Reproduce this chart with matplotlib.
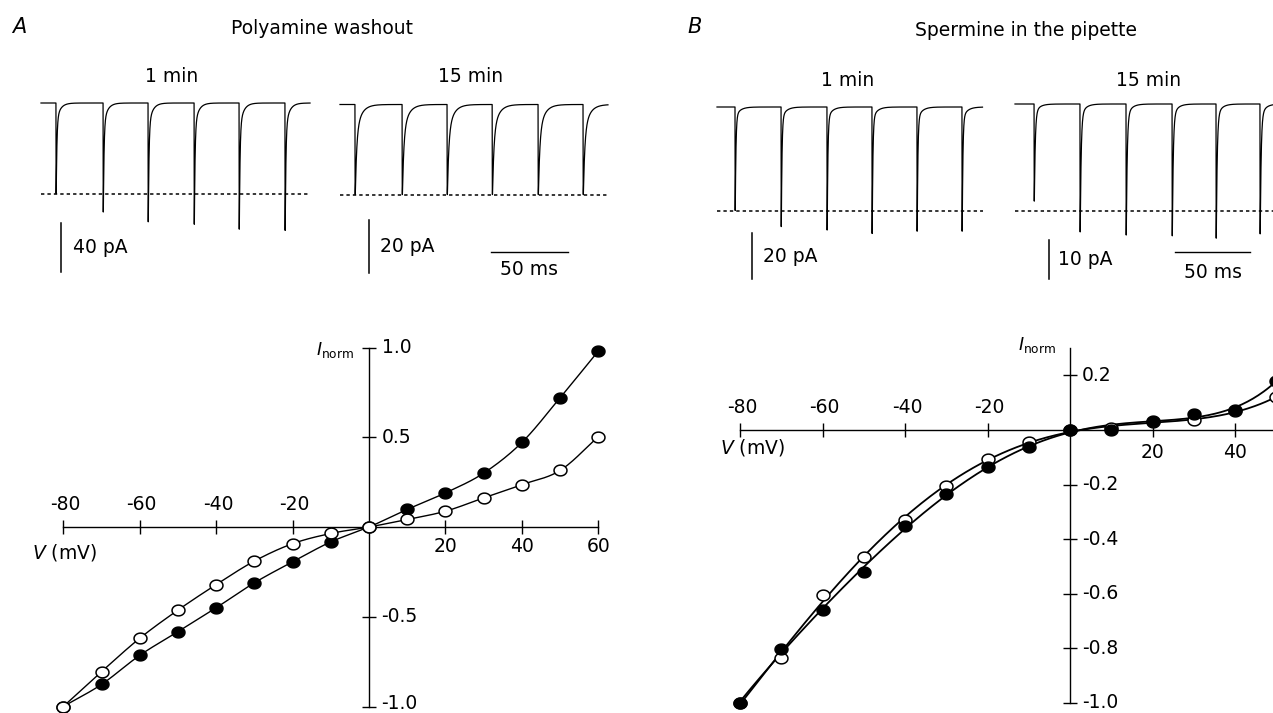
import numpy as np
import matplotlib
matplotlib.use("Agg")
import matplotlib.pyplot as plt
from matplotlib.path import Path

W, H = 1273, 713
plt.rcParams['font.family'] = ['DejaVu Sans']
plt.rcParams['mathtext.fontset'] = 'dejavusans'

# ------------------------------------------------------------------ data
# A: polyamine washout, normalised I-V (filled = 1 min, open = 15 min)
a_voltage = [-80, -70, -60, -50, -40, -30, -20, -10, 0, 10, 20, 30, 40, 50, 60]
a_inorm_1min = [-1.0, -0.877, -0.715, -0.583, -0.450, -0.311, -0.194, -0.083,
                0.0, 0.098, 0.19, 0.30, 0.471, 0.72, 0.98]
a_inorm_15min = [-1.0, -0.806, -0.62, -0.463, -0.321, -0.19, -0.093, -0.036,
                 0.0, 0.042, 0.088, 0.162, 0.236, 0.315, 0.503]
# B: spermine in the pipette
b_voltage = [-80, -70, -60, -50, -40, -30, -20, -10, 0, 10, 20, 30, 40, 50]
b_inorm_1min = [-1.0, -0.803, -0.658, -0.521, -0.351, -0.235, -0.136, -0.061,
                0.0, 0.0, 0.034, 0.060, 0.074, 0.18]
b_inorm_15min = [-1.0, -0.834, -0.603, -0.466, -0.328, -0.205, -0.106, -0.045,
                 0.0, 0.006, 0.028, 0.036, 0.070, 0.12]

a_xticks = [-80, -60, -40, -20, 20, 40, 60]
a_yticks = [1.0, 0.5, -0.5, -1.0]
a_yticklabels = ['1.0', '0.5', '-0.5', '-1.0']
b_xticks = [-80, -60, -40, -20, 20, 40]
b_yticks = [0.2, -0.2, -0.4, -0.6, -0.8, -1.0]
b_yticklabels = ['0.2', '-0.2', '-0.4', '-0.6', '-0.8', '-1.0']

# EPSC trains: stimulus times (ms) and peak amplitudes (pA)
a1_times = [9.7, 40.3, 69.5, 99.4, 128.6, 158.4]
a1_amps = [74, 89, 97, 99, 103, 104]
a15_times = [9.7, 40.3, 69.5, 98.8, 128.6, 157.8]
a15_amps = [34, 34, 34, 34, 34, 34]
b1_times = [12.0, 42.7, 73.3, 103.3, 133.3, 163.3]
b1_amps = [45, 52, 53.5, 55, 54, 54]
b15_times = [12.7, 43.3, 74.0, 104.7, 134.0, 163.3]
b15_amps = [24.9, 32.8, 33.6, 33.8, 34.4, 33.3]
dashed_levels = {'a1': 74, 'a15': 34, 'b1': 45, 'b15': 27.4}
scale_bars_pA = {'a1': 40, 'a15': 20, 'b1': 20, 'b15': 10}
time_bar_ms = 50

fig = plt.figure(figsize=(W / 100, H / 100), dpi=100)
FS = 13.5


def ftext(x, y, s, **kw):
    fig.text(x / W, 1 - y / H, s, fontsize=kw.pop('fontsize', FS), **kw)


def px_axes(x0, y0, x1, y1):
    return fig.add_axes([x0 / W, 1 - y1 / H, (x1 - x0) / W, (y1 - y0) / H])


# ------------------------------------------------------------------ titles
ftext(19, 27, 'A', style='italic', ha='center', va='center', fontsize=15)
ftext(695, 27, 'B', style='italic', ha='center', va='center', fontsize=15)
ftext(322, 28, 'Polyamine washout', ha='center', va='center')
ftext(1026, 30, 'Spermine in the pipette', ha='center', va='center')
ftext(172, 77, '1 min', ha='center', va='center')
ftext(471, 77, '15 min', ha='center', va='center')
ftext(848, 80, '1 min', ha='center', va='center')
ftext(1149, 80, '15 min', ha='center', va='center')


# ------------------------------------------------------------------ traces
def epsc(t, times, amps, tau_f, tau_s, frac_s):
    y = np.zeros_like(t)
    tt = np.linspace(0, 30, 30001)
    shp = ((1 - frac_s) * np.exp(-tt / tau_f) + frac_s * np.exp(-tt / tau_s)) * (1 - np.exp(-tt / 0.06))
    norm = shp.max()
    for t0, a in zip(times, amps):
        dt = t - t0
        m = dt >= 0
        s = ((1 - frac_s) * np.exp(-dt[m] / tau_f) + frac_s * np.exp(-dt[m] / tau_s)) * (1 - np.exp(-dt[m] / 0.06))
        y[m] -= a * s / norm
    return y


def trace_panel(key, box, cal, times, amps, dur, taus, vbar, tbar=None):
    x_start, y_base, sx, sy = cal
    x0, y0, x1, y1 = box
    ax = px_axes(x0, y0, x1, y1)
    ax.set_xlim((x0 - x_start) / sx, (x1 - x_start) / sx)
    ax.set_ylim(-(y1 - y_base) / sy, -(y0 - y_base) / sy)
    ax.axis('off')

    def d(px, py):
        return (px - x_start) / sx, -(py - y_base) / sy

    t = np.arange(0, dur, 0.01)
    ax.plot(t, epsc(t, times, amps, *taus), color='black', lw=0.9, clip_on=False)
    lvl = dashed_levels[key]
    ax.plot([0, dur], [-lvl, -lvl], color='black', lw=1.1, ls=(0, (2.2, 2.0)), clip_on=False)
    # vertical scale bar
    bx, by, lx = vbar
    tb, ib = d(bx, by)
    ax.plot([tb, tb], [ib, ib - scale_bars_pA[key]], color='black', lw=1.1)
    tl, il = d(lx, by + scale_bars_pA[key] * sy / 2)
    ax.text(tl, il, f'{scale_bars_pA[key]} pA', ha='left', va='center', fontsize=FS)
    if tbar is not None:
        hx, hy, ly = tbar
        th, ih = d(hx, hy)
        ax.plot([th, th + time_bar_ms], [ih, ih], color='black', lw=1.0)
        _, il2 = d(hx, ly)
        ax.text(th + time_bar_ms / 2, il2, f'{time_bar_ms} ms', ha='center', va='center', fontsize=FS)
    return ax


trace_panel('a1', (25, 90, 330, 290), (41, 103, 1.54, 1.225), a1_times, a1_amps, 174.7,
            (0.45, 2.5, 0.15), (61, 223, 73))
trace_panel('a15', (330, 90, 640, 290), (340, 104.5, 1.54, 2.65), a15_times, a15_amps, 174.0,
            (0.9, 3.5, 0.3), (369, 220, 380), (491, 252, 269))
trace_panel('b1', (700, 90, 1000, 290), (717, 107, 1.5, 2.3), b1_times, b1_amps, 177.0,
            (0.45, 3.0, 0.07), (752, 233, 763))
trace_panel('b15', (1000, 90, 1273, 290), (1015, 104, 1.5, 3.9), b15_times, b15_amps, 177.0,
            (0.6, 3.0, 0.08), (1049, 240, 1058), (1175, 252, 272))


# ------------------------------------------------------------------ I-V plots
def catmull_rom(x, y, n=24):
    x = np.asarray(x, float)
    y = np.asarray(y, float)
    px = np.concatenate([[2 * x[0] - x[1]], x, [2 * x[-1] - x[-2]]])
    py = np.concatenate([[2 * y[0] - y[1]], y, [2 * y[-1] - y[-2]]])
    s = np.linspace(0, 1, n, endpoint=False)
    ox, oy = [], []
    for i in range(1, len(px) - 2):
        for p, o in ((px, ox), (py, oy)):
            p0, p1, p2, p3 = p[i - 1], p[i], p[i + 1], p[i + 2]
            o.extend(0.5 * (2 * p1 + (-p0 + p2) * s + (2 * p0 - 5 * p1 + 4 * p2 - p3) * s ** 2
                            + (-p0 + 3 * p1 - 3 * p2 + p3) * s ** 3))
    ox.append(x[-1])
    oy.append(y[-1])
    return np.array(ox), np.array(oy)


def poly_fit_curve(x, y, deg=5, n=300):
    x = np.asarray(x, float)
    y = np.asarray(y, float)
    c = np.polyfit(x, y, deg)
    xx = np.linspace(x[0], x[-1], n)
    return xx, np.polyval(c, xx)


def iv_axes(box, X0, sx, Y0, sy, xbounds, ybounds):
    x0, y0, x1, y1 = box
    ax = px_axes(x0, y0, x1, y1)
    ax.set_xlim((x0 - X0) / sx, (x1 - X0) / sx)
    ax.set_ylim(-(y1 - Y0) / sy, -(y0 - Y0) / sy)
    ax.patch.set_alpha(0)
    for sp in ('top', 'right'):
        ax.spines[sp].set_visible(False)
    ax.spines['left'].set_position(('data', 0))
    ax.spines['bottom'].set_position(('data', 0))
    ax.spines['bottom'].set_bounds(*xbounds)
    ax.spines['left'].set_bounds(*ybounds)
    for sp in ('left', 'bottom'):
        ax.spines[sp].set_linewidth(1.0)
    ax.tick_params(direction='inout', length=10, width=1.0,
                   labelbottom=False, labelleft=False)
    return ax


def draw_iv(ax, xticks, yticks, yticklabels, neg_off, pos_off, ylab_off, vlabel_off, inorm_pos,
            bottom_lift=0.0):
    ax.set_xticks(xticks)
    ax.set_yticks(yticks)
    for v in xticks:
        if v < 0:
            ax.annotate(str(v), (v, 0), xytext=(1.5, neg_off), textcoords='offset points',
                        ha='center', va='center', fontsize=FS)
        else:
            ax.annotate(str(v), (v, 0), xytext=(0, pos_off), textcoords='offset points',
                        ha='center', va='center', fontsize=FS)
    for v, lab in zip(yticks, yticklabels):
        lift = bottom_lift if v == min(yticks) else 0.0
        ax.annotate(lab, (0, v), xytext=(ylab_off, lift), textcoords='offset points',
                    ha='left', va='center', fontsize=FS)
    ax.annotate(r'$V$ (mV)', (xticks[0], 0), xytext=vlabel_off, textcoords='offset points',
                ha='center', va='center', fontsize=FS)
    ax.annotate(r'$I_{\mathrm{norm}}$', (0, inorm_pos[0]), xytext=(inorm_pos[1], inorm_pos[2]),
                textcoords='offset points', ha='right', va='center', fontsize=12.5)


# slightly wide circle (the scanned figure is stretched horizontally)
_th = np.linspace(0, 2 * np.pi, 73)
ELLIPSE = Path(np.column_stack([1.2 * np.cos(_th), np.sin(_th)]), closed=True)


def series(ax, v, i, lw, fit=False):
    cx, cy = poly_fit_curve(v, i) if fit else catmull_rom(v, i)
    ax.plot(cx, cy, color='black', lw=lw, zorder=2, clip_on=False)


def markers(ax, v, i, filled, z):
    ax.plot(v, i, ls='none', marker=ELLIPSE, ms=9.3, mew=1.1, mec='black',
            mfc='black' if filled else 'white', zorder=z, clip_on=False)


# panel A
axA = iv_axes((20, 330, 640, 713), 369, 535 / 140, 527, 179.5, (-80, 60), (-1.0, 1.0))
draw_iv(axA, a_xticks, a_yticks, a_yticklabels, 16.5, -14, 9, (1, -18.5), (1.0, -11, -2),
        bottom_lift=2.5)
series(axA, a_voltage, a_inorm_1min, 1.0)
series(axA, a_voltage, a_inorm_15min, 1.0)
markers(axA, a_voltage, a_inorm_1min, True, 3)
markers(axA, a_voltage, a_inorm_15min, False, 4)

# panel B
axB = iv_axes((690, 330, 1273, 713), 1070, 4.125, 430, 273, (-80, 60), (-1.0, 0.30))
draw_iv(axB, b_xticks, b_yticks, b_yticklabels, 16, -16, 8.5, (9, -12.5), (0.30, -10, 2))
series(axB, b_voltage, b_inorm_15min, 1.3, fit=True)
series(axB, b_voltage, b_inorm_1min, 1.3, fit=True)
markers(axB, b_voltage, b_inorm_15min, False, 3)
markers(axB, b_voltage, b_inorm_1min, True, 4)

fig.savefig('out.png', dpi=100)
